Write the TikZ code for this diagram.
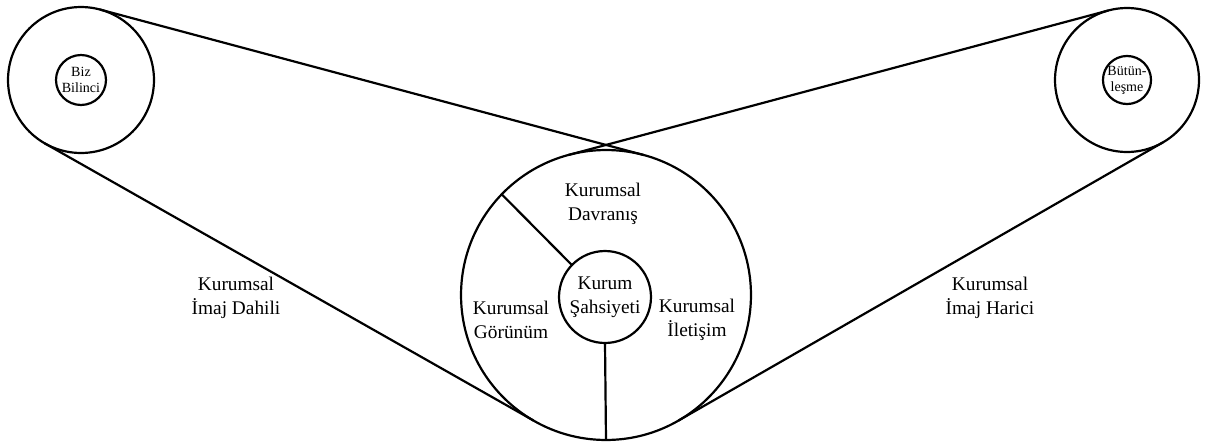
\documentclass[tikz,border=0pt]{standalone}
\usepackage{fontspec}
\setmainfont{Liberation Serif}
\begin{document}
\begin{tikzpicture}[x=0.02cm,y=-0.02cm]
	\tikzstyle{ring}=[draw,circle,line width=1.25pt,inner sep=0pt,outer sep=0pt]
	\tikzstyle{belt}=[line width=1.25pt]
	\tikzstyle{txt}=[align=center,font=\fontsize{11}{13.5}\selectfont]
	\tikzstyle{smalltxt}=[align=center,font=\fontsize{8}{9}\selectfont]
	\useasboundingbox (0,0) rectangle (1207,443);
	% outer circles
	\node[ring,minimum size=2.92cm] (biz) at (81,80){};
	\node[ring,minimum size=2.88cm] (butun) at (1127,80){};
	\node[ring,minimum size=5.8cm] (kurum) at (606,295){};
	% inner circles
	\node[ring,minimum size=1cm,smalltxt] (bilinc) at (81,80){Biz\\Bilinci};
	\node[ring,minimum size=0.96cm,smalltxt] (lesme) at (1127,80){Bütün-\\leşme};
	\node[ring,minimum size=1.84cm,txt] (sahs) at (605,297){Kurum\\Şahsiyeti};
	% belts
	\draw[belt] (biz.75) -- (kurum.75);
	\draw[belt] (biz.240) -- (kurum.240);
	\draw[belt] (butun.105) -- (kurum.105);
	\draw[belt] (butun.300) -- (kurum.300);
	% dividers
	\draw[belt] (sahs.270) -- (kurum.270);
	\draw[belt] (sahs.136) -- (kurum.136);
	% labels
	\node[txt] (davr) at (603,204){Kurumsal\\Davranış};
	\node[txt] (gor) at (511,320){Kurumsal\\Görünüm};
	\node[txt] (ilet) at (697,320){Kurumsal\\İletişim};
	\node[txt] (dahili) at (236,298){Kurumsal\\İmaj Dahili};
	\node[txt] (harici) at (990,298){Kurumsal\\İmaj Harici};
\end{tikzpicture}
\end{document}
